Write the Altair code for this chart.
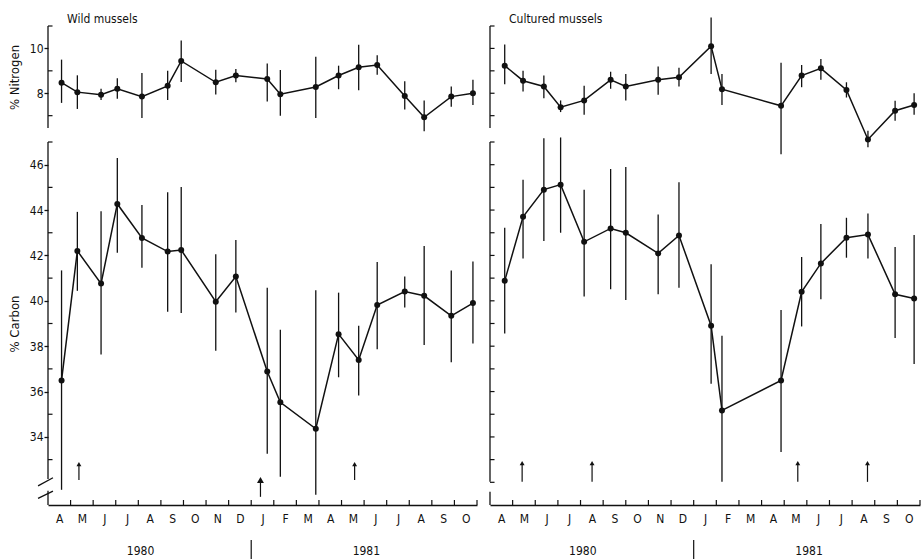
import altair as alt
import pandas as pd

FONT = "DejaVu Sans Condensed, DejaVu Sans, sans-serif"
INK = "#111111"

# ---------------- data (months since 1 April 1980) ----------------
month_labels = ["A", "M", "J", "J", "A", "S", "O", "N", "D", "J",
                "F", "M", "A", "M", "J", "J", "A", "S", "O"]
month_bounds = list(range(1, 20))
year_labels = ["1980", "1981"]
year_pos = [4.1, 14.1]
year_split = 9

wild_month = [0.6, 1.3, 2.35, 3.07, 4.16, 5.3, 5.9, 7.43, 8.32, 9.71,
              10.29, 11.86, 12.87, 13.76, 14.58, 15.8, 16.66, 17.86, 18.82]
wild_n = [8.47, 8.05, 7.93, 8.2, 7.85, 8.33, 9.44, 8.49, 8.79, 8.64,
          7.96, 8.28, 8.79, 9.16, 9.26, 7.88, 6.93, 7.85, 8.0]
wild_n_lo = [7.57, 7.3, 7.7, 7.76, 6.9, 7.7, 8.5, 7.94, 8.49, 7.63,
             7.0, 6.9, 8.18, 8.13, 8.82, 7.28, 6.3, 7.4, 7.48]
wild_n_hi = [9.5, 8.8, 8.2, 8.67, 8.9, 9.0, 10.35, 9.05, 9.08, 9.33,
             9.04, 9.63, 9.23, 10.16, 9.69, 8.53, 7.68, 8.3, 8.6]
wild_c = [36.49, 42.2, 40.76, 44.27, 42.77, 42.17, 42.24, 39.96, 41.07, 36.88,
          35.53, 34.36, 38.53, 37.39, 39.81, 40.41, 40.22, 39.34, 39.9]
wild_c_lo = [31.67, 40.44, 37.63, 42.12, 41.46, 39.52, 39.46, 37.8, 39.49, 33.26,
             32.24, 31.45, 36.63, 35.83, 37.87, 39.71, 38.05, 37.29, 38.12]
wild_c_hi = [41.34, 43.92, 43.95, 46.29, 44.22, 44.79, 45.02, 42.05, 42.68, 40.58,
             38.73, 40.47, 40.36, 38.9, 41.71, 41.07, 42.42, 41.34, 41.73]

cult_month = [0.65, 1.46, 2.38, 3.12, 4.16, 5.33, 6.0, 7.43, 8.35, 9.77,
              10.25, 12.86, 13.77, 14.62, 15.75, 16.7, 17.9, 18.74]
cult_n = [9.23, 8.56, 8.3, 7.38, 7.68, 8.6, 8.3, 8.6, 8.71, 10.1,
          8.18, 7.44, 8.79, 9.11, 8.15, 5.94, 7.22, 7.48]
cult_n_lo = [8.4, 8.08, 7.78, 7.16, 7.04, 8.2, 7.68, 7.93, 8.3, 8.86,
             7.48, 5.28, 8.27, 8.6, 7.81, 5.59, 6.77, 7.04]
cult_n_hi = [10.18, 9.0, 8.79, 7.68, 8.33, 8.96, 8.86, 9.19, 9.14, 11.38,
             8.86, 9.36, 9.26, 9.53, 8.49, 6.33, 7.66, 8.0]
cult_c = [40.88, 43.7, 44.9, 45.12, 42.6, 43.19, 43.0, 42.09, 42.88, 38.9,
          35.17, 36.49, 40.4, 41.65, 42.78, 42.92, 40.29, 40.1]
cult_c_lo = [38.56, 41.87, 42.64, 43.0, 40.19, 40.51, 40.04, 40.29, 40.58, 36.34,
             32.02, 33.34, 38.87, 40.07, 41.9, 41.86, 38.36, 37.22]
cult_c_hi = [43.22, 45.34, 47.17, 47.2, 44.9, 45.81, 45.9, 43.8, 45.23, 41.61,
             38.46, 39.6, 41.93, 43.39, 43.66, 43.85, 42.37, 42.9]

# spawning arrows
wild_arrow_month = [1.37, 9.41, 13.58]
wild_arrow_base = [32.1, 31.36, 32.1]
wild_arrow_tip = [32.8, 32.1, 32.8]
wild_arrow_kind = ["small", "large", "small"]
cult_arrow_month = [1.42, 4.51, 13.6, 16.68]
cult_arrow_base = [32.02, 32.02, 32.02, 32.02]
cult_arrow_tip = [32.85, 32.85, 32.85, 32.85]
cult_arrow_kind = ["small", "small", "small", "small"]

# ---------------- scales ----------------
xs = alt.Scale(domain=[0, 19], nice=False, zero=False)
ns = alt.Scale(domain=[6.45, 11.0], nice=False, zero=False)
cs = alt.Scale(domain=[31, 47], nice=False, zero=False)

N_H = 102
C_H = 363
W_L = 429
W_R = 430
TICK_IN = 0.2  # inward tick length in months (~4.5 px)


def build_panel(df, scale, xaxis, yaxis, inward, seg_lo, seg_hi):
    """Layers shared by all panels. Every layer carries the same axis spec."""
    def X(field="month:Q"):
        return alt.X(field, scale=xs, axis=xaxis)

    def XD(v):
        return alt.XDatum(v, type="quantitative", scale=xs, axis=xaxis)

    def Y(field):
        return alt.Y(field, scale=scale, axis=yaxis)

    def YD(v):
        return alt.YDatum(v, type="quantitative", scale=scale, axis=yaxis)

    base = alt.Chart(df)
    layers = [
        base.mark_rule(color=INK, strokeWidth=1.3).encode(
            x=X(), y=Y("lo:Q"), y2="hi:Q"),
        base.mark_line(color=INK, strokeWidth=1.5).encode(x=X(), y=Y("val:Q")),
        base.mark_circle(color=INK, size=36, opacity=1).encode(
            x=X(), y=Y("val:Q")),
        alt.Chart(pd.DataFrame({"a": seg_lo, "b": seg_hi})).mark_rule(
            color=INK, strokeWidth=1.3).encode(x=XD(0), y=Y("a:Q"), y2="b:Q"),
        alt.Chart(pd.DataFrame({"t": inward})).mark_rule(
            color=INK, strokeWidth=1.2).encode(
            x=XD(0), x2=alt.X2Datum(TICK_IN), y=Y("t:Q")),
    ]
    return layers, X, XD, Y, YD


def nitrogen_panel(month, val, lo, hi, width, left, title):
    df = pd.DataFrame({"month": month, "val": val, "lo": lo, "hi": hi})
    if left:
        yaxis = alt.Axis(values=[8, 10], title="% Nitrogen", tickSize=4,
                         domain=False, grid=False, labelPadding=1,
                         titlePadding=8, format="d")
        inward = [7, 9, 11]
    else:
        yaxis = None
        inward = [7, 8, 9, 10, 11]
    layers, X, XD, Y, YD = build_panel(df, ns, None, yaxis, inward,
                                       [6.45], [11.0])
    layers.append(alt.Chart(pd.DataFrame({"title": [title]})).mark_text(
        font=FONT, fontSize=12, color=INK, align="left",
        baseline="alphabetic").encode(
        x=alt.value(19), y=alt.value(-3), text="title:N"))
    return alt.layer(*layers).properties(width=width, height=N_H)


def carbon_panel(month, val, lo, hi, width, left, am, ab, at, ak):
    df = pd.DataFrame({"month": month, "val": val, "lo": lo, "hi": hi})
    label_js = "[" + ",".join("'%s'" % m for m in month_labels) + "]"
    xaxis = alt.Axis(values=list(range(19)),
                     labelExpr=label_js + "[datum.value]",
                     ticks=False, tickSize=0, labelOffset=11.3,
                     labelPadding=8, labelFlush=False, labelOverlap=False,
                     domain=True, domainColor=INK, domainWidth=1.3,
                     grid=False, title=None)
    if left:
        yaxis = alt.Axis(values=[34, 36, 38, 40, 42, 44, 46], title="% Carbon",
                         tickSize=4, domain=False, grid=False, labelPadding=1,
                         titlePadding=8, format="d")
        inward = [33, 35, 37, 39, 41, 43, 45, 47]
        seg_lo, seg_hi = [32.15, 31.0], [47.0, 31.63]
    else:
        yaxis = None
        inward = list(range(32, 48))
        seg_lo, seg_hi = [32.02, 31.0], [47.0, 31.58]
    layers, X, XD, Y, YD = build_panel(df, cs, xaxis, yaxis, inward,
                                       seg_lo, seg_hi)

    # upward x ticks at month boundaries
    layers.append(alt.Chart(pd.DataFrame({"b": month_bounds})).mark_rule(
        color=INK, strokeWidth=1.2).encode(
        x=X("b:Q"), y=YD(31), y2=alt.Y2Datum(31.22)))

    # spawning arrows
    adf = pd.DataFrame({"month": am, "base": ab, "tip": at, "kind": ak})
    layers.append(alt.Chart(adf).mark_rule(color=INK, strokeWidth=1.2).encode(
        x=X(), y=Y("base:Q"), y2="tip:Q"))
    layers.append(alt.Chart(adf).mark_point(
        shape="triangle-up", filled=True, color=INK, opacity=1).encode(
        x=X(), y=Y("tip:Q"),
        size=alt.Size("kind:N", scale=alt.Scale(domain=["small", "large"],
                                                 range=[24, 48]), legend=None)))

    # year labels and separator
    ydf = pd.DataFrame({"m": year_pos, "label": year_labels})
    layers.append(alt.Chart(ydf).mark_text(
        font=FONT, fontSize=12, color=INK, baseline="middle").encode(
        x=X("m:Q"), y=alt.value(C_H + 46), text="label:N"))
    layers.append(alt.Chart(pd.DataFrame({"s": [year_split]})).mark_rule(
        color=INK, strokeWidth=1.2).encode(
        x=X("s:Q"), y=alt.value(C_H + 35), y2=alt.value(C_H + 55)))

    if left:
        # axis break marks
        for y1, y2 in [(31.84, 32.2), (31.29, 31.61)]:
            layers.append(alt.Chart(pd.DataFrame({"k": [0]})).mark_rule(
                color=INK, strokeWidth=1.3).encode(
                x=XD(-0.44), x2=alt.X2Datum(0.22),
                y=YD(y1), y2=alt.Y2Datum(y2)))
    return alt.layer(*layers).properties(width=width, height=C_H)


nl = nitrogen_panel(wild_month, wild_n, wild_n_lo, wild_n_hi, W_L, True,
                    "Wild mussels")
nr = nitrogen_panel(cult_month, cult_n, cult_n_lo, cult_n_hi, W_R, False,
                    "Cultured mussels")
cl = carbon_panel(wild_month, wild_c, wild_c_lo, wild_c_hi, W_L, True,
                  wild_arrow_month, wild_arrow_base, wild_arrow_tip,
                  wild_arrow_kind)
cr = carbon_panel(cult_month, cult_c, cult_c_lo, cult_c_hi, W_R, False,
                  cult_arrow_month, cult_arrow_base, cult_arrow_tip,
                  cult_arrow_kind)

chart = alt.concat(nl, nr, cl, cr, columns=2,
                   spacing={"row": 14, "column": 13}, bounds="flush").properties(
    padding={"left": 8, "top": 13, "right": 0, "bottom": 0},
    background="white",
).configure_view(stroke=None).configure_axis(
    labelFont=FONT, titleFont=FONT, labelFontSize=12, titleFontSize=13,
    labelColor=INK, titleColor=INK, tickColor=INK, tickWidth=1.3,
    titleFontWeight="normal",
)

chart.save("out.html", embed_options={"renderer": "svg", "actions": False})
